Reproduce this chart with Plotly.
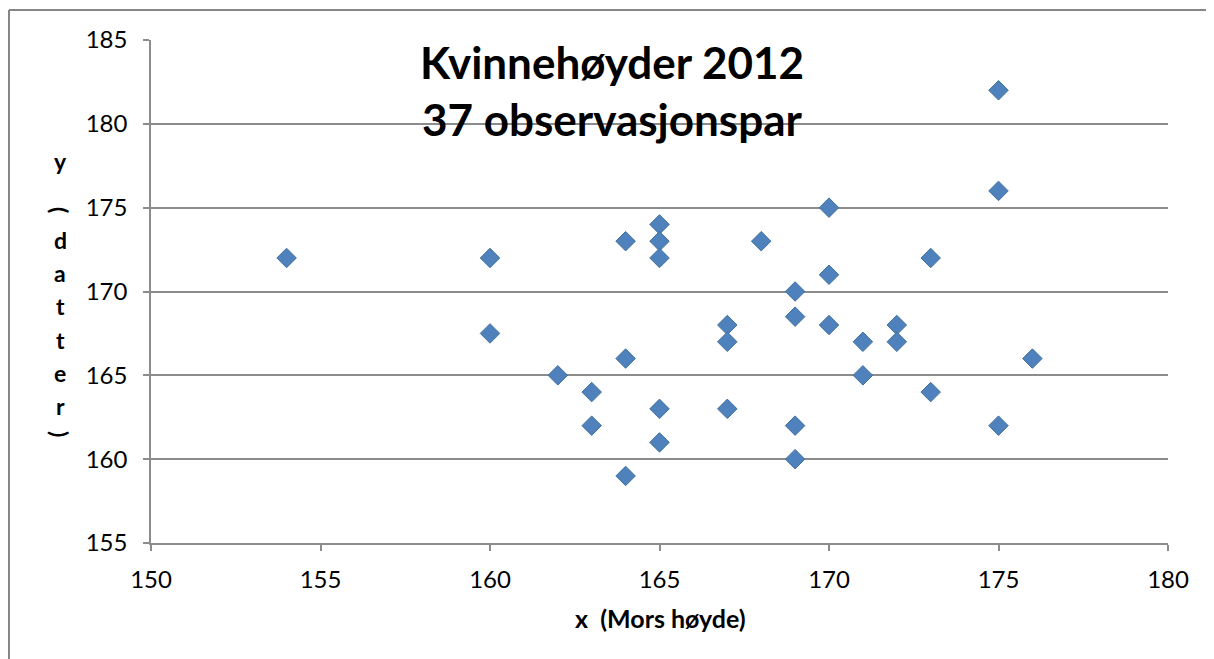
import plotly.graph_objects as go

# Data: mother's height (x) and daughter's height (y)
mors_hoyde = [154, 160, 160, 162, 163, 163, 164, 164, 164, 165, 165, 165, 165, 165,
              167, 167, 167, 168, 169, 169, 169, 169, 170, 170, 170, 171, 171,
              172, 172, 173, 173, 175, 175, 175, 176]
datter_hoyde = [172, 172, 167.5, 165, 164, 162, 173, 166, 159, 174, 173, 172, 163, 161,
                168, 167, 163, 173, 170, 168.5, 162, 160, 175, 171, 168, 167, 165,
                168, 167, 172, 164, 182, 176, 162, 166]

title_lines = ["Kvinnehøyder 2012", "37 observasjonspar"]
x_title = "x\u00a0 (Mors høyde)"
y_title_chars = ["y", "(", "d", "a", "t", "t", "e", "r", ")"]

FONT = "Lato, Calibri, 'Open Sans', sans-serif"
OFF = 8  # page body margin
W, H = 1206, 651
L, T = 151 - OFF, 40 - OFF
R = W - (1168 - OFF)
B = H - (543 - OFF)
PW, PH = W - L - R, H - T - B

fig = go.Figure()
fig.add_trace(go.Scatter(
    x=mors_hoyde, y=datter_hoyde, mode="markers",
    marker=dict(symbol="diamond", size=15, color="#4F81BD",
                line=dict(color="#41719C", width=1)),
    showlegend=False, hoverinfo="x+y"))

axis_col = "#8c8c8c"
fig.update_xaxes(range=[150, 180], dtick=5, tick0=150, showgrid=False,
                 showline=True, linecolor=axis_col, linewidth=1.5,
                 ticks="outside", ticklen=6, tickcolor=axis_col, tickwidth=1.5,
                 tickfont=dict(family=FONT, size=24, color="#000"),
                 ticklabelstandoff=8, zeroline=False, fixedrange=True)
fig.update_yaxes(range=[155, 185], dtick=5, tick0=155, showgrid=True,
                 gridcolor=axis_col, gridwidth=1.5,
                 showline=True, linecolor=axis_col, linewidth=1.5,
                 ticks="outside", ticklen=6, tickcolor=axis_col, tickwidth=1.5,
                 tickfont=dict(family=FONT, size=24, color="#000"),
                 ticklabelstandoff=11, zeroline=False, fixedrange=True)

# convert screenshot pixel positions to paper coordinates
def px_x(p):
    return (p - OFF - L) / PW

def px_y(p):
    return (H - B - (p - OFF)) / PH

annotations = []
annotations.append(dict(text="<b>" + "<br>".join(title_lines) + "</b>",
                        x=px_x(612), y=px_y(90), xref="paper", yref="paper",
                        xanchor="center", yanchor="middle",
                        showarrow=False, align="center",
                        font=dict(family=FONT, size=44, color="#000")))
annotations.append(dict(text="<b>" + x_title + "</b>",
                        x=px_x(660), y=px_y(618), xref="paper", yref="paper",
                        xanchor="center", yanchor="middle",
                        showarrow=False, font=dict(family=FONT, size=25, color="#000")))
ypos = [161, 210, 240, 273, 306, 340, 373, 406, 434]
for ch, yp in zip(y_title_chars, ypos):
    rot = 90 if ch in "()" else 0
    annotations.append(dict(text="<b>" + ch + "</b>", x=px_x(60), y=px_y(yp),
                            xref="paper", yref="paper", showarrow=False,
                            xanchor="center", yanchor="middle",
                            textangle=rot,
                            font=dict(family=FONT, size=23, color="#000")))

border = dict(color="#868686", width=2)
fig.update_layout(
    width=W, height=H,
    margin=dict(l=L, r=R, t=T, b=B),
    paper_bgcolor="white", plot_bgcolor="white",
    annotations=annotations,
    shapes=[
        dict(type="line", xref="paper", yref="paper",
             x0=px_x(9), x1=px_x(9), y0=px_y(H + OFF), y1=px_y(10),
             line=border, layer="below"),
        dict(type="line", xref="paper", yref="paper",
             x0=px_x(9), x1=px_x(W + OFF), y0=px_y(10), y1=px_y(10),
             line=border, layer="below"),
    ],
)

fig.write_html("out.html")
